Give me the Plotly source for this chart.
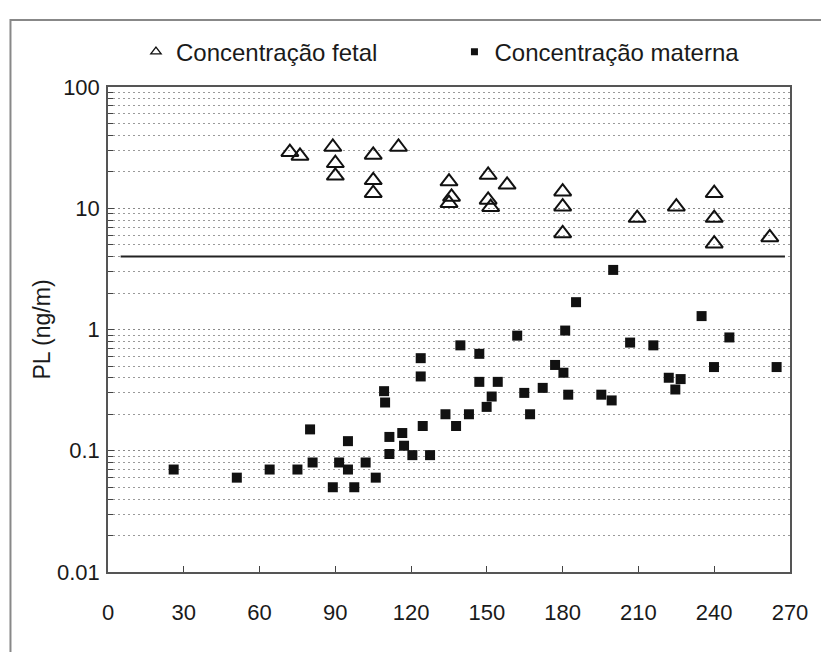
import plotly.graph_objects as go

# Placental lactogen (PL) by gestational day: fetal vs maternal concentration
fetal_day = [72, 76, 89, 90, 90, 105, 105, 105, 115, 135, 136, 135, 150.5, 150.5,
             151.5, 158, 180, 180, 180, 209.5, 225, 240, 240, 240, 262]
fetal_pl = [29, 27, 32, 23.5, 18.5, 27.5, 17, 13.3, 32, 16.6, 12.4, 11, 18.8, 11.7,
            10.2, 15.6, 13.7, 10.3, 6.2, 8.3, 10.3, 13.3, 8.3, 5.1, 5.75]

maternal_day = [26, 51, 64, 75, 80, 81, 89, 91.5, 95, 95, 97.5, 102, 106, 109.3,
                109.7, 111.4, 111.4, 116.5, 117.2, 120.5, 123.8, 123.8, 124.6, 127.5,
                133.6, 137.8, 139.5, 142.9, 147, 147, 149.9, 151.9, 154.3, 162,
                164.8, 167.1, 172.1, 177, 180.3, 181, 182.2, 185.3, 195.3, 199.4,
                200, 206.7, 215.9, 222, 224.6, 226.7, 235, 239.9, 246, 264.7]
maternal_pl = [0.07, 0.06, 0.07, 0.07, 0.15, 0.08, 0.05, 0.08, 0.12, 0.07, 0.05, 0.08,
               0.06, 0.31, 0.25, 0.13, 0.094, 0.14, 0.11, 0.092, 0.58, 0.41, 0.16,
               0.092, 0.20, 0.16, 0.74, 0.20, 0.63, 0.37, 0.23, 0.28, 0.37, 0.89,
               0.30, 0.20, 0.33, 0.51, 0.44, 0.98, 0.29, 1.68, 0.29, 0.26, 3.1, 0.78,
               0.74, 0.40, 0.32, 0.39, 1.29, 0.49, 0.86, 0.49]

# reference level line
threshold_day = [5, 268]
threshold_pl = [4, 4]

x_ticks = [0, 30, 60, 90, 120, 150, 180, 210, 240, 270]
y_tick_vals = [0.01, 0.1, 1, 10, 100]
y_tick_text = ["0.01", "0.1", "1", "10", "100"]
y_minor_vals = [m * d for d in (0.01, 0.1, 1, 10) for m in range(2, 10)]

FONT = "Liberation Sans, Arial, sans-serif"
INK = "#1a1a1a"

fig = go.Figure()

fig.add_trace(go.Scatter(
    x=threshold_day, y=threshold_pl, mode="lines",
    line=dict(color="#222", width=2), showlegend=False, hoverinfo="skip"))

fig.add_trace(go.Scatter(
    x=fetal_day, y=fetal_pl, mode="markers", name="Concentração fetal",
    marker=dict(symbol="triangle-up-open", size=15, color="#111",
                line=dict(width=2, color="#111")),
    showlegend=False))

fig.add_trace(go.Scatter(
    x=maternal_day, y=maternal_pl, mode="markers", name="Concentração materna",
    marker=dict(symbol="square", size=10, color="#111"),
    showlegend=False))

# legend entries
fig.add_trace(go.Scatter(
    x=[None], y=[None], mode="markers", name="Concentração fetal",
    marker=dict(symbol="triangle-up-open", size=9, color="#111",
                line=dict(width=1.3, color="#111")),
    legend="legend"))
fig.add_trace(go.Scatter(
    x=[None], y=[None], mode="markers", name="Concentração materna",
    marker=dict(symbol="square", size=7, color="#111"),
    legend="legend2"))

legend_common = dict(orientation="h", yanchor="middle", xanchor="left",
                     bgcolor="rgba(0,0,0,0)", font=dict(family=FONT, size=24, color=INK),
                     itemwidth=30)

fig.update_layout(
    width=821, height=652,
    margin=dict(l=108, r=31, t=87, b=80),
    paper_bgcolor="white", plot_bgcolor="white",
    font=dict(family=FONT, color=INK),
    legend=dict(x=0.041, y=1.072, **legend_common),
    legend2=dict(x=0.508, y=1.072, **legend_common),
    shapes=[dict(type="rect", xref="paper", yref="paper",
                 x0=-0.143, x1=1.2, y0=-0.3, y1=1.138,
                 line=dict(color="#888", width=2), layer="below")],
)

fig.update_xaxes(
    range=[0, 270], tickmode="array", tickvals=x_ticks,
    ticks="inside", ticklen=6, tickwidth=1, tickcolor="#444",
    showgrid=False, zeroline=False,
    showline=True, linecolor="#555", linewidth=1.5, mirror=True,
    tickfont=dict(family=FONT, size=22, color=INK), ticklabelstandoff=20)

fig.update_yaxes(
    type="log", range=[-2, 2], tickmode="array",
    tickvals=y_tick_vals, ticktext=y_tick_text,
    ticks="inside", ticklen=6, tickwidth=1, tickcolor="#444",
    showgrid=True, gridcolor="#8a8a8a", gridwidth=1, griddash="2px,3px",
    minor=dict(tickmode="array", tickvals=y_minor_vals, ticks="inside",
               ticklen=5, tickcolor="#444", showgrid=True,
               gridcolor="#9a9a9a", gridwidth=1, griddash="2px,3px"),
    zeroline=False, showline=True, linecolor="#555", linewidth=1.5, mirror=True,
    tickfont=dict(family=FONT, size=22, color=INK), ticklabelstandoff=2,
    title=dict(text="PL (ng/m)", font=dict(family=FONT, size=23, color=INK),
               standoff=0))

fig.write_html("out.html")
